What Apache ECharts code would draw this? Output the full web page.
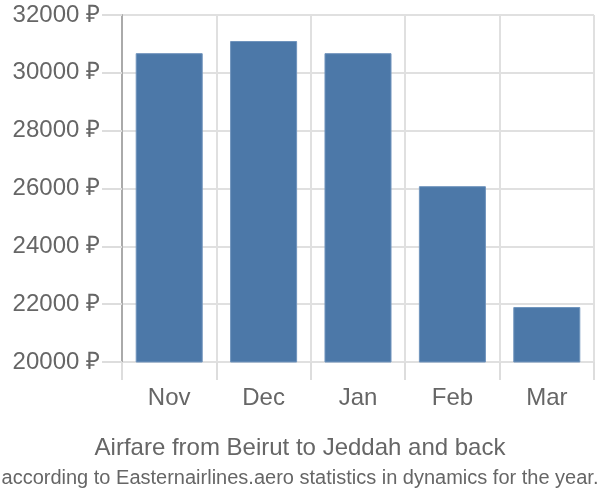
<!DOCTYPE html>
<html><head><meta charset="utf-8">
<script src="https://cdn.jsdelivr.net/npm/echarts@6/dist/echarts.min.js"></script>
<style>html,body{margin:0;padding:0;background:#fff}#c{width:600px;height:500px}</style>
</head><body><div id="c"></div>
<script>
const categories = ['Nov', 'Dec', 'Jan', 'Feb', 'Mar'];
const prices = [30680, 31100, 30680, 26080, 21900];
const yMin = 20000, yMax = 32000, yStep = 2000;
const titleText = 'Airfare from Beirut to Jeddah and back';
const subtitleText = 'according to Easternairlines.aero statistics in dynamics for the year.';

const chart = echarts.init(document.getElementById('c'));
chart.setOption({
  animation: false,
  textStyle: { fontFamily: 'Liberation Sans, Arial, sans-serif' },
  title: {
    text: titleText,
    subtext: subtitleText,
    left: 'center',
    top: 431,
    itemGap: 8,
    textStyle: { fontSize: 24, fontWeight: 'normal', color: '#666' },
    subtextStyle: { fontSize: 20, color: '#666' }
  },
  grid: { left: 122, right: 6, top: 15, bottom: 138, containLabel: false },
  xAxis: {
    type: 'category',
    data: categories,
    axisLine: { show: false },
    axisTick: { show: true, length: 18, lineStyle: { color: '#ddd', width: 2 } },
    splitLine: { show: true, lineStyle: { color: '#e0e0e0', width: 2 } },
    axisLabel: { fontSize: 24, color: '#666', margin: 24 }
  },
  yAxis: {
    type: 'value',
    min: yMin, max: yMax, interval: yStep,
    axisLine: { show: true, lineStyle: { color: '#aaa', width: 2 } },
    axisTick: { show: true, length: 20, lineStyle: { color: '#ddd', width: 2 } },
    splitLine: { show: true, lineStyle: { color: '#e0e0e0', width: 2 } },
    axisLabel: { fontSize: 24, color: '#666', margin: 22, formatter: v => v + ' ₽' }
  },
  series: [{
    type: 'bar',
    data: prices,
    barWidth: '71%',
    itemStyle: { color: '#4c78a8', borderColor: '#7094bd', borderWidth: 1 }
  }]
});
</script></body></html>
